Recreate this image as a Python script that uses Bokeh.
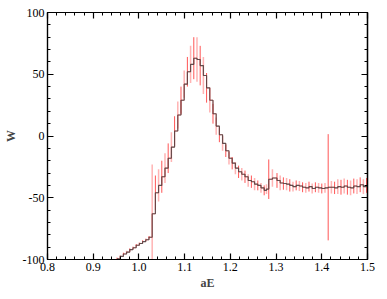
import numpy as np
from bokeh.plotting import figure
from bokeh.models import (ColumnDataSource, Range1d, LinearAxis, FixedTicker,
                          PrintfTickFormatter)
from bokeh.embed import file_html
from bokeh.resources import INLINE

# ---- data ----
aE = [0.952, 0.959, 0.966, 0.973, 0.980, 0.987, 0.994, 1.001, 1.008, 1.015,
      1.022, 1.029, 1.036, 1.043, 1.050, 1.057, 1.064, 1.071, 1.078, 1.085,
      1.092, 1.099, 1.106, 1.113, 1.120, 1.127, 1.134, 1.141, 1.148, 1.155,
      1.162, 1.169, 1.176, 1.183, 1.190, 1.197, 1.204, 1.211, 1.218, 1.225,
      1.232, 1.239, 1.246, 1.253, 1.260, 1.267, 1.274, 1.279, 1.284, 1.292,
      1.302, 1.309, 1.316, 1.323, 1.330, 1.337, 1.344, 1.351, 1.358, 1.365,
      1.372, 1.379, 1.386, 1.393, 1.400, 1.407, 1.414, 1.421, 1.428, 1.435,
      1.442, 1.449, 1.456, 1.463, 1.470, 1.477, 1.484, 1.491, 1.498]
W = [-99.5, -97.5, -95.5, -94.0, -92.0, -90.5, -88.5, -87.0, -85.5, -84.0,
     -82.0, -63.0, -46.0, -40.0, -33.0, -26.0, -18.0, -9.0, 4.0, 17.0,
     29.0, 42.0, 52.0, 58.0, 63.0, 62.0, 57.0, 49.0, 39.0, 29.0,
     18.0, 8.0, 1.0, -6.0, -12.0, -18.0, -22.0, -26.0, -29.0, -31.0,
     -33.0, -36.0, -37.0, -39.0, -40.0, -42.0, -44.0, -43.0, -35.0, -34.0,
     -36.0, -38.0, -38.5, -39.0, -40.0, -41.0, -40.0, -40.5, -41.5, -42.0,
     -41.0, -42.5, -41.5, -42.0, -42.5, -42.0, -41.5, -41.5, -42.0, -41.0,
     -41.5, -40.5, -41.5, -42.0, -40.5, -41.0, -39.5, -41.0, -40.0]
W_err = [1, 1, 1, 1, 1, 1, 1, 1, 1, 1,
         1, 40, 14, 13, 13, 12, 12, 12, 12, 11,
         11, 11, 12, 15, 17, 18, 16, 15, 12, 10,
         8, 7, 6, 6, 5, 5, 5, 5, 5, 5,
         5, 5, 5, 5, 4, 4, 4, 4, 16, 7,
         6, 6, 5, 5, 5, 4, 4, 4, 4, 4,
         4, 4, 4, 4, 4, 4, 43, 5, 5, 6,
         6, 6, 6, 6, 6, 6, 6, 6, 6]

x_major = [0.8, 0.9, 1.0, 1.1, 1.2, 1.3, 1.4, 1.5]
x_minor = [0.82, 0.84, 0.86, 0.88, 0.92, 0.94, 0.96, 0.98, 1.02, 1.04, 1.06, 1.08,
           1.12, 1.14, 1.16, 1.18, 1.22, 1.24, 1.26, 1.28, 1.32, 1.34, 1.36, 1.38,
           1.42, 1.44, 1.46, 1.48]
y_major = [-100, -50, 0, 50, 100]
y_minor = [-90, -80, -70, -60, -40, -30, -20, -10, 10, 20, 30, 40, 60, 70, 80, 90]

x = np.array(aE)
y = np.array(W)
e = np.array(W_err)
even = np.arange(len(x)) % 2 == 0

src_a = ColumnDataSource(dict(x=x[even], lo=(y - e)[even], hi=(y + e)[even]))
src_b = ColumnDataSource(dict(x=x[~even], lo=(y - e)[~even], hi=(y + e)[~even]))
src_line = ColumnDataSource(dict(x=x, y=y))

FONT = "Liberation Serif"

p = figure(frame_width=320, frame_height=247,
           x_range=Range1d(0.8, 1.5), y_range=Range1d(-100, 100),
           output_backend="svg", toolbar_location=None,
           min_border_left=40, min_border_right=11, min_border_top=12, min_border_bottom=30)
p.xgrid.visible = False
p.ygrid.visible = False
p.outline_line_color = "black"
p.outline_line_width = 1.2

p.segment(x0="x", y0="lo", x1="x", y1="hi", source=src_b, line_color="#ff9a9a",
          line_alpha=0.75, line_width=1.5)
p.segment(x0="x", y0="lo", x1="x", y1="hi", source=src_a, line_color="#ff2a2a",
          line_alpha=0.8, line_width=1)
p.step(x="x", y="y", source=src_line, mode="after", line_color="#ff3030",
       line_alpha=0.6, line_width=1)
p.step(x="x", y="y", source=src_line, mode="after", line_color="#444444",
       line_alpha=0.85, line_width=1.1)


def style(ax):
    ax.major_tick_in = 6
    ax.major_tick_out = 0
    ax.minor_tick_in = 3
    ax.minor_tick_out = 0
    ax.axis_line_width = 1.2
    ax.major_tick_line_width = 1.2
    ax.minor_tick_line_width = 1
    ax.major_label_text_font = FONT
    ax.major_label_text_font_size = "12px"
    ax.major_label_text_color = "black"
    ax.major_label_standoff = 3


xa = p.xaxis[0]
ya = p.yaxis[0]
xa.ticker = FixedTicker(ticks=x_major, minor_ticks=x_minor)
ya.ticker = FixedTicker(ticks=y_major, minor_ticks=y_minor)
style(xa)
style(ya)
xa.formatter = PrintfTickFormatter(format="%.1f")
ya.formatter = PrintfTickFormatter(format="%d")
xa.axis_label = "aE"
ya.axis_label = "W"
for ax in (xa, ya):
    ax.axis_label_text_font = FONT
    ax.axis_label_text_font_style = "bold"
    ax.axis_label_text_font_size = "12px"
    ax.axis_label_standoff = 2

# mirrored ticks (no labels) on top and right
for loc, majors, minors in (("above", x_major, x_minor), ("right", y_major, y_minor)):
    for ticks, ln, lw in ((majors, 6, 1.2), (minors, 3, 1)):
        a = LinearAxis(ticker=FixedTicker(ticks=[], minor_ticks=ticks))
        a.minor_tick_in = ln
        a.minor_tick_out = 0
        a.minor_tick_line_width = lw
        a.axis_line_width = 1.2
        a.major_tick_out = 0
        a.major_label_standoff = 0
        p.add_layout(a, loc)

open("out.html", "w").write(file_html(p, INLINE))
